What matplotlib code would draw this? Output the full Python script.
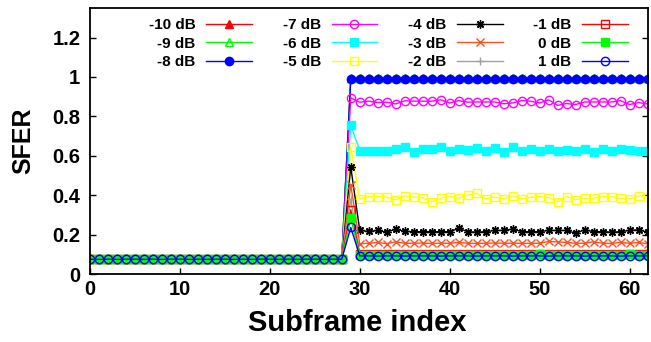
import matplotlib
matplotlib.use("Agg")
import matplotlib.pyplot as plt
import numpy as np

plt.rcParams['font.family'] = ['Liberation Sans', 'DejaVu Sans']
plt.rcParams['font.weight'] = 'bold'

# Subframe indices 0..62
subframes = list(range(63))

# SFER before the interference onset (subframes 0..28), common to all SNRs
baseline = [0.075, 0.074, 0.075, 0.074, 0.075, 0.075, 0.074, 0.075, 0.074, 0.075,
            0.075, 0.074, 0.075, 0.074, 0.075, 0.075, 0.074, 0.075, 0.074, 0.075,
            0.075, 0.074, 0.075, 0.074, 0.075, 0.075, 0.074, 0.075, 0.075]

# SFER from subframe 29 to 62 for each SNR
after = {
    "-10 dB": [0.995, 0.995, 0.995, 0.995, 0.995, 0.995, 0.995, 0.995, 0.995, 0.995,
               0.995, 0.995, 0.995, 0.995, 0.995, 0.995, 0.995, 0.995, 0.995, 0.995,
               0.995, 0.995, 0.995, 0.995, 0.995, 0.995, 0.995, 0.995, 0.995, 0.995,
               0.995, 0.995, 0.995, 0.995],
    "-9 dB": [0.995, 0.995, 0.995, 0.995, 0.995, 0.995, 0.995, 0.995, 0.995, 0.995,
              0.995, 0.995, 0.995, 0.995, 0.995, 0.995, 0.995, 0.995, 0.995, 0.995,
              0.995, 0.995, 0.995, 0.995, 0.995, 0.995, 0.995, 0.995, 0.995, 0.995,
              0.995, 0.995, 0.995, 0.995],
    "-8 dB": [0.99, 0.99, 0.99, 0.99, 0.99, 0.99, 0.99, 0.99, 0.99, 0.99,
              0.99, 0.99, 0.99, 0.99, 0.99, 0.99, 0.99, 0.99, 0.99, 0.99,
              0.99, 0.99, 0.99, 0.99, 0.99, 0.99, 0.99, 0.99, 0.99, 0.99,
              0.99, 0.99, 0.99, 0.99],
    "-7 dB": [0.894, 0.872, 0.877, 0.870, 0.872, 0.863, 0.879, 0.877, 0.877, 0.877,
              0.884, 0.868, 0.880, 0.872, 0.873, 0.873, 0.873, 0.864, 0.868, 0.880,
              0.877, 0.868, 0.884, 0.856, 0.865, 0.860, 0.873, 0.873, 0.873, 0.873,
              0.880, 0.860, 0.870, 0.863],
    "-6 dB": [0.755, 0.626, 0.623, 0.623, 0.626, 0.634, 0.643, 0.617, 0.634, 0.634,
              0.643, 0.623, 0.634, 0.629, 0.640, 0.623, 0.640, 0.620, 0.643, 0.626,
              0.634, 0.626, 0.634, 0.626, 0.629, 0.623, 0.634, 0.620, 0.634, 0.626,
              0.634, 0.629, 0.626, 0.626],
    "-5 dB": [0.646, 0.382, 0.393, 0.393, 0.390, 0.377, 0.397, 0.390, 0.387, 0.366,
              0.385, 0.393, 0.384, 0.400, 0.411, 0.382, 0.390, 0.382, 0.397, 0.380,
              0.390, 0.393, 0.387, 0.366, 0.393, 0.377, 0.384, 0.384, 0.393, 0.393,
              0.384, 0.380, 0.397, 0.393],
    "-4 dB": [0.543, 0.221, 0.216, 0.221, 0.212, 0.228, 0.216, 0.215, 0.215, 0.215,
              0.215, 0.215, 0.231, 0.215, 0.212, 0.215, 0.221, 0.221, 0.228, 0.215,
              0.215, 0.215, 0.221, 0.221, 0.221, 0.207, 0.224, 0.215, 0.215, 0.212,
              0.215, 0.221, 0.224, 0.212],
    "-3 dB": [0.453, 0.153, 0.156, 0.160, 0.154, 0.163, 0.156, 0.156, 0.157, 0.155,
              0.156, 0.156, 0.160, 0.156, 0.155, 0.156, 0.157, 0.156, 0.156, 0.156,
              0.155, 0.156, 0.165, 0.163, 0.160, 0.156, 0.156, 0.163, 0.156, 0.155,
              0.160, 0.156, 0.160, 0.153],
    "-2 dB": [0.380, 0.101, 0.100, 0.101, 0.100, 0.102, 0.100, 0.101, 0.100, 0.101,
              0.100, 0.101, 0.100, 0.102, 0.100, 0.101, 0.100, 0.101, 0.100, 0.101,
              0.102, 0.100, 0.101, 0.100, 0.101, 0.100, 0.102, 0.100, 0.101, 0.100,
              0.101, 0.100, 0.101, 0.100],
    "-1 dB": [0.326, 0.100, 0.099, 0.100, 0.101, 0.100, 0.099, 0.101, 0.100, 0.100,
              0.099, 0.101, 0.100, 0.100, 0.101, 0.099, 0.100, 0.100, 0.101, 0.100,
              0.099, 0.100, 0.101, 0.100, 0.100, 0.099, 0.101, 0.100, 0.100, 0.101,
              0.099, 0.100, 0.100, 0.099],
    "0 dB": [0.283, 0.096, 0.097, 0.095, 0.097, 0.096, 0.097, 0.095, 0.096, 0.097,
             0.098, 0.096, 0.097, 0.095, 0.097, 0.096, 0.097, 0.096, 0.095, 0.097,
             0.098, 0.100, 0.097, 0.096, 0.097, 0.095, 0.097, 0.096, 0.097, 0.096,
             0.097, 0.100, 0.096, 0.097],
    "1 dB": [0.236, 0.092, 0.092, 0.091, 0.092, 0.092, 0.091, 0.092, 0.092, 0.092,
             0.091, 0.092, 0.092, 0.092, 0.091, 0.092, 0.092, 0.092, 0.091, 0.092,
             0.092, 0.092, 0.091, 0.092, 0.092, 0.092, 0.091, 0.092, 0.092, 0.092,
             0.091, 0.092, 0.092, 0.092],
}

colors = ["#ff0000", "#00ff00", "#0000ff", "#ff00ff", "#00ffff", "#ffff00",
          "#000000", "#ff5020", "#a0a0a0", "#ff0000", "#00ff00", "#0000ff"]
markers = ["^", "^", "o", "o", "s", "s", (8, 2, 0), "x", "+", "s", "s", "o"]
filled = [True, False, True, False, True, False, True, True, True, False, True, False]

fig = plt.figure(figsize=(6.51, 3.42), dpi=100)
W, H = 651, 342
ax = fig.add_axes([90 / W, (H - 274) / H, 557.5 / W, 266 / H])

for (label, post), c, m, f in zip(after.items(), colors, markers, filled):
    y = baseline + post
    ax.plot(subframes, y, color=c, lw=1.0, marker=m, markersize=6,
            markerfacecolor=c if f else "none", markeredgecolor=c,
            markeredgewidth=1.0, label=label)

ax.set_xlim(0, 62)
ax.set_ylim(0, 1.35)
ax.set_xticks([0, 10, 20, 30, 40, 50, 60])
ax.set_yticks([0, 0.2, 0.4, 0.6, 0.8, 1.0, 1.2])
ax.set_yticklabels(["0", "0.2", "0.4", "0.6", "0.8", "1", "1.2"])
ax.tick_params(axis="both", direction="in", length=4.5, width=1.0,
               labelsize=14.5)
ax.tick_params(axis="y", right=True, pad=7)
ax.tick_params(axis="x", top=False, pad=4)
for s in ax.spines.values():
    s.set_linewidth(1.3)

ax.set_xlabel("Subframe index", fontsize=21, fontweight="bold")
ax.xaxis.set_label_coords((357.5 - 90) / 557.5, -0.13)
ax.set_ylabel("SFER", fontsize=18, fontweight="bold", labelpad=12)

leg = ax.legend(loc="upper right", bbox_to_anchor=(628 / W, 1 - 18 / H),
                bbox_transform=fig.transFigure, ncol=4, frameon=False,
                markerfirst=False, fontsize=11, handlelength=3.0,
                handletextpad=0.7, columnspacing=2.0, labelspacing=0.3,
                borderpad=0, borderaxespad=0)
for t in leg.get_texts():
    t.set_fontweight("bold")

fig.savefig("out.png", dpi=100)
